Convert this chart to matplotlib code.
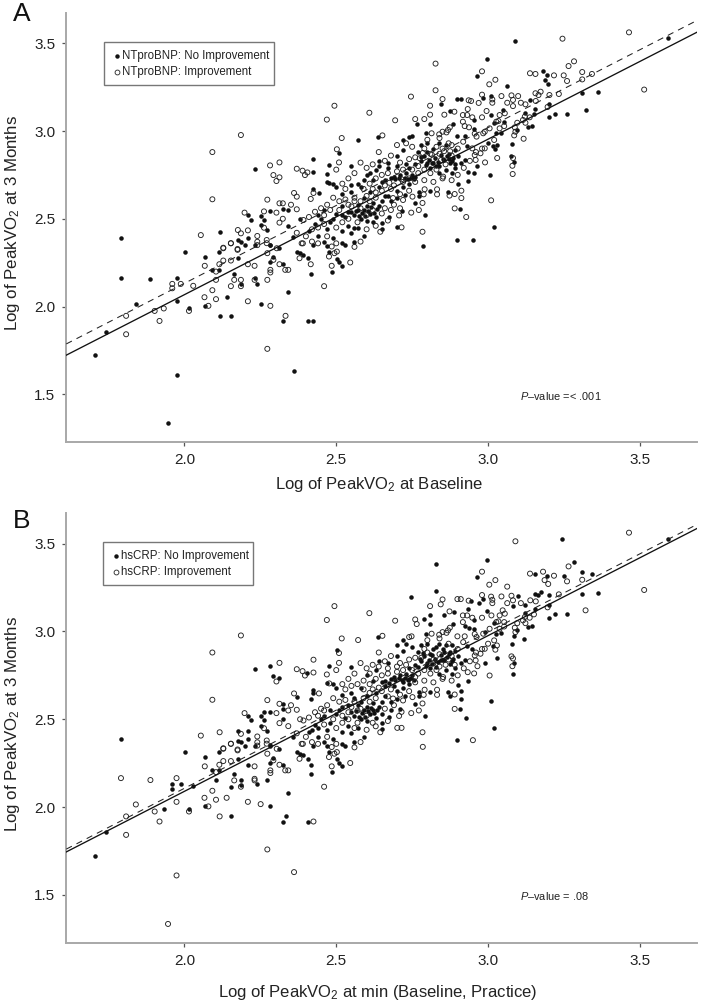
import matplotlib
matplotlib.use("Agg")
import matplotlib.pyplot as plt
import numpy as np

plt.rcParams['font.family'] = ['Liberation Sans', 'DejaVu Sans']
plt.rcParams['mathtext.fontset'] = 'custom'
plt.rcParams['mathtext.rm'] = 'Liberation Sans'
plt.rcParams['mathtext.it'] = 'Liberation Sans:italic'
plt.rcParams['mathtext.default'] = 'regular'

# (baseline, 3 months) pairs grouped by status in panel A and panel B
filled_both = [
(1.791,2.388),(2.231,2.785),(2.476,2.804),(2.469,2.709),(2.425,2.668),(2.209,2.521),(2.218,2.495),(2.251,2.516),
(2.283,2.542),(2.324,2.557),(2.262,2.495),(2.251,2.464),(2.175,2.379),(2.186,2.369),(2.209,2.388),(2.198,2.350),
(2.231,2.350),(2.283,2.350),(2.273,2.436),(2.359,2.398),(2.067,2.283),(2.115,2.313),(2.175,2.275),(2.092,2.209),
(2.115,2.209),(2.164,2.188),(2.186,2.127),(2.240,2.129),(2.067,2.004),(2.153,1.947),(2.015,1.989),(2.323,1.918),
(2.407,1.918),(2.342,2.082),(1.705,1.723),(1.741,1.856),(2.283,2.251),(2.293,2.281),(2.323,2.241),(2.313,2.332),
(2.283,2.351),(2.370,2.313),(2.381,2.304),(2.390,2.294),(2.407,2.275),(2.416,2.188),(2.485,2.198),(2.476,2.313),
(2.502,2.272),(2.509,2.253),(2.518,2.232),(2.469,2.346),(2.518,2.361),(2.425,2.350),(2.002,2.313),
(3.591,3.528),(3.362,3.220),(3.310,3.215),(3.261,3.097),(3.222,3.097),(3.202,3.078),(3.201,3.152),(2.995,3.408),
(2.964,3.311),(3.193,3.317),(2.639,2.966),(2.953,3.063),(2.984,3.186),(3.121,3.104),(3.156,3.125),(3.131,3.025),
(3.144,3.030),(3.094,3.006),(3.078,2.926),(3.016,2.915),(3.086,2.821),(2.933,2.715),(2.907,2.556),(3.020,2.451),
(2.896,2.381),(2.652,2.442),(2.652,2.478),(2.674,2.512),(2.791,2.521),(2.760,2.588),(2.900,2.696),(2.868,2.654),
(2.809,2.658),(2.773,2.654),(2.773,2.632),(2.726,2.635),(2.700,2.618),(2.720,2.949),(2.809,3.042),(2.797,2.987),
(2.884,3.042),(2.953,3.012),(2.929,2.915),(3.020,3.047),(3.044,2.991),(3.027,2.987),(2.923,2.835),
(2.77,2.88),(2.79,2.86),(2.80,2.82),(2.81,2.79),(2.78,2.83),(2.76,2.81),(2.74,2.79),(2.73,2.76),(2.75,2.75),
(2.71,2.75),(2.69,2.74),(2.68,2.73),(2.66,2.72),(2.65,2.71),(2.83,2.80),(2.85,2.84),(2.87,2.87),(2.88,2.83),
(2.89,2.89),(2.90,2.86),(2.86,2.92),(2.84,2.93),(2.82,2.90),(2.80,2.93),(2.78,2.92),(2.91,2.82),(2.89,2.79),
(2.88,2.76),(2.86,2.78),(2.84,2.76),(2.55,2.54),(2.56,2.52),(2.57,2.58),(2.58,2.50),(2.59,2.55),(2.60,2.57),
(2.60,2.49),(2.61,2.53),(2.62,2.59),(2.63,2.51),(2.64,2.57),(2.65,2.60),(2.66,2.63),(2.68,2.60),(2.70,2.66),
(2.72,2.68),(2.74,2.70),(2.54,2.46),(2.53,2.51),(2.52,2.57),(2.50,2.53),(2.48,2.48),(2.47,2.44),(2.45,2.50),
(2.43,2.47),(2.41,2.43),(2.44,2.40),(2.46,2.37),(2.49,2.39),(2.52,2.43),(2.55,2.42),(2.57,2.45),(2.59,2.40),
(2.56,2.37),(2.53,2.35),(2.58,2.68),(2.55,2.65),(2.52,2.64),(2.49,2.70),(2.62,2.72),(2.60,2.75),(2.63,2.78),
(2.67,2.82),(2.70,2.86),(2.72,2.89),(2.55,2.80),(2.50,2.68),(2.64,2.83),
(2.585,2.535),(2.595,2.515),(2.605,2.545),(2.615,2.565),(2.575,2.515),(2.565,2.545),(2.625,2.535),(2.635,2.555),
(2.695,2.725),(2.705,2.735),(2.725,2.735),(2.735,2.725),(2.745,2.735),(2.755,2.725),(2.795,2.805),(2.805,2.835),
(2.815,2.815),(2.825,2.845),(2.835,2.825),(2.845,2.865),(2.855,2.835),(2.865,2.855),(2.875,2.815),(2.885,2.845),
]
filled_a_open_b = [
(2.116,2.426),(2.425,2.839),(2.425,2.766),(2.469,2.755),(2.477,2.704),(2.443,2.647),(2.342,2.550),(2.342,2.461),
(2.381,2.500),(2.139,2.053),(2.251,2.017),(2.116,1.947),(2.231,2.161),(2.425,1.918),(2.361,1.630),(1.974,1.611),
(1.946,1.335),(1.840,2.015),(1.791,2.165),(1.888,2.154),(1.974,2.165),(1.974,2.030),(2.509,2.877),(3.090,3.513),
(3.321,3.120),(3.063,3.255),(3.181,3.340),(3.186,3.292),(3.198,3.270),(2.572,2.951),(2.844,3.154),(2.873,3.114),
(2.899,3.184),(2.910,3.184),(3.010,3.198),(3.011,3.091),(3.048,3.120),(3.139,3.177),(3.151,3.097),(3.077,2.858),
(3.029,2.920),(3.024,2.896),(3.000,2.930),(3.005,2.749),(2.954,2.761),(2.933,2.768),(2.965,2.802),(2.950,2.381),
(2.785,2.343),(2.701,2.451),(2.715,2.542),(2.740,2.968),(2.748,2.972),(2.765,3.042),(2.899,2.972),(2.923,2.972),
(3.053,3.053),(2.78,2.85),(2.80,2.88),(2.82,2.82),(2.84,2.80),(2.87,2.84),(2.89,2.81),(2.76,2.74),(2.73,2.81),
(2.70,2.80),(2.67,2.79),(2.64,2.80),(2.61,2.76),(2.59,2.72),(2.57,2.70),(2.55,2.69),(2.61,2.65),(2.64,2.68),
(2.67,2.63),(2.59,2.62),(2.57,2.55),(2.54,2.54),(2.52,2.52),(2.49,2.50),(2.46,2.55),(2.44,2.52),(2.62,2.48),(2.56,2.45),
]
open_a_filled_b = [
(2.502,2.896),(2.282,2.804),(2.293,2.749),(2.313,2.736),(2.405,2.764),(2.370,2.626),(2.425,2.647),(2.416,2.613),
(2.324,2.588),(2.262,2.542),(2.324,2.500),(2.176,2.436),(2.209,2.434),(2.209,2.241),(2.186,2.152),(2.153,2.116),
(2.104,2.152),(2.283,2.004),(2.333,1.947),(1.960,2.129),(1.960,2.104),(1.988,2.129),(2.029,2.118),(1.932,1.989),
(2.273,2.152),(2.416,2.241),(3.245,3.526),(3.156,3.325),(3.249,3.317),(3.283,3.397),(3.310,3.336),(3.342,3.325),
(2.827,3.384),(2.827,3.232),(2.746,3.196),(2.809,3.093),(2.856,3.093),(2.889,3.110),(2.944,3.171),(2.933,3.125),
(2.969,3.160),(2.995,3.114),(3.099,3.199),(3.082,3.142),(3.123,3.152),(3.156,3.215),(3.166,3.205),(3.173,3.224),
(3.202,3.205),(3.086,2.975),(3.117,2.956),(3.081,2.755),(3.030,2.846),(2.990,2.821),(3.010,2.605),(2.928,2.510),
(2.912,2.618),(2.912,2.660),(2.873,2.632),(2.790,3.068),(2.923,3.028),(2.937,3.021),(2.948,2.901),(2.989,2.996),
(2.74,2.73),(2.77,2.80),(2.72,2.71),(2.69,2.69),(2.66,2.69),(2.63,2.65),(2.60,2.63),(2.58,2.60),(2.56,2.62),
(2.54,2.58),(2.51,2.55),(2.48,2.55),(2.46,2.52),(2.44,2.45),(2.42,2.44),(2.62,2.55),(2.65,2.53),(2.68,2.55),
(2.71,2.56),(2.81,2.87),(2.83,2.91),(2.85,2.90),(2.88,2.92),(2.75,2.91),(2.73,2.93),(2.70,2.92),
(2.775,2.845),(2.785,2.875),(2.815,2.865),(2.845,2.835),(2.855,2.885),(2.875,2.885),(2.715,2.725),(2.675,2.705),
]
open_both = [
(2.494,3.144),(2.469,3.065),(2.518,2.960),(2.186,2.977),(2.092,2.880),(2.092,2.611),(2.054,2.407),(2.313,2.821),
(2.303,2.715),(2.509,2.821),(2.370,2.785),(2.389,2.774),(2.397,2.749),(2.361,2.647),(2.273,2.609),(2.313,2.588),
(2.198,2.535),(2.303,2.535),(2.351,2.580),(2.370,2.554),(2.262,2.449),(2.313,2.478),(2.392,2.493),(2.240,2.402),
(2.186,2.417),(2.271,2.379),(2.240,2.369),(2.240,2.350),(2.153,2.360),(2.128,2.335),(2.175,2.328),(2.386,2.360),
(2.067,2.232),(2.128,2.332),(2.153,2.361),(2.175,2.323),(2.128,2.262),(2.115,2.241),(2.153,2.262),(2.104,2.199),
(2.231,2.232),(2.164,2.152),(2.186,2.116),(2.231,2.152),(2.092,2.093),(2.066,2.053),(2.104,2.042),(2.209,2.030),
(2.079,2.004),(2.015,1.975),(2.460,2.116),(2.273,1.759),(1.808,1.842),(1.808,1.947),(1.902,1.975),(1.918,1.918),
(2.283,2.194),(2.283,2.209),(2.293,2.266),(2.313,2.241),(2.332,2.209),(2.342,2.209),(2.304,2.332),(2.273,2.304),
(2.271,2.361),(2.379,2.275),(2.485,2.232),(2.476,2.285),(2.494,2.304),(2.502,2.313),(2.485,2.342),(2.546,2.251),
(3.464,3.562),(3.514,3.236),(3.196,3.137),(3.233,3.211),(2.980,3.340),(3.004,3.266),(3.024,3.292),(3.138,3.329),
(3.217,3.317),(3.260,3.285),(3.265,3.370),(3.310,3.294),(2.609,3.104),(2.694,3.061),(2.652,2.975),(2.850,3.182),
(2.809,3.144),(2.936,3.175),(2.917,3.091),(2.931,3.091),(2.948,3.078),(2.980,3.078),(2.980,3.207),(3.014,3.180),
(3.014,3.161),(3.044,3.199),(3.077,3.203),(3.063,3.161),(3.108,3.161),(3.082,3.177),(3.055,3.101),(3.038,3.091),
(3.157,3.171),(3.137,3.078),(3.121,3.082),(3.115,3.063),(3.123,3.047),(3.096,3.047),(3.088,3.021),(3.090,2.996),
(3.020,2.949),(3.082,2.846),(3.080,2.802),(2.890,2.559),(2.784,2.426),(2.715,2.451),(2.645,2.426),(2.707,2.519),
(2.747,2.535),(2.772,2.550),(2.784,2.590),(2.890,2.641),(2.832,2.668),(2.832,2.639),(2.791,2.668),(2.788,2.639),
(2.751,2.626),(2.720,2.607),(2.687,2.618),(2.852,2.740),(2.760,3.068),(2.814,2.987),(2.839,2.981),(2.850,2.996),
(2.863,2.992),(2.874,3.021),(2.868,3.006),(2.917,3.053),(2.918,2.939),(2.962,2.968),(2.956,2.985),(2.984,2.987),
(3.005,3.015),(3.027,3.053),(3.034,3.057),(3.053,3.028),(3.038,3.015),(2.989,2.901),(2.975,2.873),(2.956,2.863),
(2.959,2.835),(2.76,2.85),(2.79,2.90),(2.82,2.84),(2.84,2.87),(2.86,2.81),(2.88,2.86),(2.83,2.78),(2.81,2.76),
(2.79,2.78),(2.77,2.76),(2.75,2.78),(2.72,2.78),(2.70,2.77),(2.67,2.76),(2.65,2.75),(2.63,2.73),(2.61,2.70),
(2.59,2.67),(2.62,2.67),(2.65,2.66),(2.68,2.67),(2.71,2.64),(2.74,2.66),(2.76,2.71),(2.79,2.72),(2.82,2.71),
(2.85,2.73),(2.88,2.72),(2.90,2.75),(2.92,2.79),(2.94,2.83),(2.96,2.88),(2.98,2.90),(2.90,2.90),(2.87,2.93),
(2.84,2.96),(2.80,2.95),(2.74,2.84),(2.71,2.82),(2.68,2.86),(2.66,2.83),(2.64,2.88),(2.62,2.81),(2.60,2.79),
(2.58,2.82),(2.56,2.76),(2.54,2.73),(2.52,2.70),(2.50,2.78),(2.53,2.67),(2.56,2.60),(2.58,2.56),(2.61,2.60),
(2.63,2.62),(2.66,2.56),(2.69,2.58),(2.60,2.52),(2.57,2.48),(2.55,2.57),(2.53,2.61),(2.51,2.60),(2.49,2.62),
(2.47,2.58),(2.45,2.56),(2.43,2.54),(2.41,2.51),(2.46,2.47),(2.50,2.45),(2.52,2.48),(2.54,2.50),(2.42,2.37),
(2.44,2.36),(2.39,2.36),(2.37,2.42),(2.40,2.40),(2.47,2.40),(2.50,2.36),(2.56,2.34),(2.58,2.37),(2.60,2.44),
(2.63,2.46),(2.67,2.49),
]

fit_x = [1.611, 3.687]
fit_a_solid = [1.723, 3.562]
fit_a_dashed = [1.787, 3.629]
fit_b_solid = [1.745, 3.585]
fit_b_dashed = [1.761, 3.608]

ticks = [2.0, 2.5, 3.0, 3.5]
y_ticks = [1.5, 2.0, 2.5, 3.0, 3.5]
x_lim = (1.611, 3.687)
y_lim = (1.2265, 3.674)

W, H = 701, 1007
GRAY = '#a8a8a8'
fig = plt.figure(figsize=(W / 100, H / 100), dpi=100, facecolor='white')


def make_axes(top, bottom, left=66.3, right=696.7):
    return fig.add_axes([left / W, 1 - bottom / H, (right - left) / W, (bottom - top) / H])


def panel(ax, filled, opened, solid, dashed, letter, letter_px, xlabel, xlabel_y, ylabel_c,
          names, legend_box, ptext, ptext_px):
    ax.set_xlim(*x_lim)
    ax.set_ylim(*y_lim)
    ax.scatter(*zip(*filled), s=10.5, c='#111111', linewidths=0, zorder=3)
    ax.scatter(*zip(*opened), s=13, facecolors='none', edgecolors='#222222', linewidths=0.65, zorder=3)
    ax.plot(fit_x, solid, color='#111111', lw=0.95, zorder=4)
    ax.plot(fit_x, dashed, color='#222222', lw=0.75, dashes=(6, 5), zorder=4)
    for s in ('top', 'right'):
        ax.spines[s].set_visible(False)
    for s in ('left', 'bottom'):
        ax.spines[s].set_color(GRAY)
        ax.spines[s].set_linewidth(1.4)
    ax.set_xticks(ticks)
    ax.set_yticks(y_ticks)
    ax.set_xticklabels([f'{t:.1f}' for t in ticks])
    ax.set_yticklabels([f'{t:.1f}' for t in y_ticks])
    ax.tick_params(length=3, width=0.9, color='#555555', labelsize=11, labelcolor='#222222', pad=5)
    fig.text(xlabel_y[0] / W, 1 - xlabel_y[1] / H, xlabel, fontsize=12, ha='center', va='center', color='#222222')
    fig.text(13 / W, 1 - ylabel_c / H, 'Log of PeakVO$_2$ at 3 Months', fontsize=12.2, rotation=90,
             ha='center', va='center', color='#222222')
    fig.text(letter_px[0] / W, 1 - letter_px[1] / H, letter, fontsize=19, ha='center', va='center', color='#111111')
    fig.text(ptext_px[0] / W, 1 - ptext_px[1] / H, ptext, fontsize=7.9, ha='left', va='center', color='#222222')
    # legend frame and entries
    x0, y0, x1, y1 = legend_box
    fig.add_artist(plt.Rectangle((x0 / W, 1 - y1 / H), (x1 - x0) / W, (y1 - y0) / H, transform=fig.transFigure,
                                 fill=True, facecolor='white', edgecolor='#777777', lw=1.0, zorder=5))
    for i, (name, style) in enumerate(zip(names, ('f', 'o'))):
        py = y0 + 13.5 + i * 16.5
        fig.text((x0 + 18) / W, 1 - py / H, name, fontsize=8.3, ha='left', va='center', color='#222222', zorder=6)
        if style == 'f':
            fig.add_artist(plt.Line2D([(x0 + 12.5) / W], [1 - py / H], marker='o', ms=3.2, mfc='#111111', mec='none',
                                      transform=fig.transFigure, zorder=6))
        else:
            fig.add_artist(plt.Line2D([(x0 + 12.5) / W], [1 - py / H], marker='o', ms=3.5, mfc='white', mec='#222222',
                                      mew=0.6, transform=fig.transFigure, zorder=6))


a_filled = filled_both + filled_a_open_b
a_open = open_a_filled_b + open_both
b_filled = filled_both + open_a_filled_b
b_open = filled_a_open_b + open_both

ax_a = make_axes(12.7, 442.3)
panel(ax_a, a_filled, a_open, fit_a_solid, fit_a_dashed, 'A', (22, 14),
      'Log of PeakVO$_2$ at Baseline', (379, 484), 223,
      ['NTproBNP: No Improvement', 'NTproBNP: Improvement'], (104, 42, 274, 84.5),
      '$\\mathit{P}$\u2013value =< .001', (519.5, 396))

ax_b = make_axes(513, 943)
panel(ax_b, b_filled, b_open, fit_b_solid, fit_b_dashed, 'B', (22, 521),
      'Log of PeakVO$_2$ at min (Baseline, Practice)', (378, 992), 724,
      ['hsCRP: No Improvement', 'hsCRP: Improvement'], (103, 542, 252.5, 584.5),
      '$\\mathit{P}$\u2013value = .08', (519.5, 896))

fig.savefig('out.png', dpi=100, facecolor='white')
